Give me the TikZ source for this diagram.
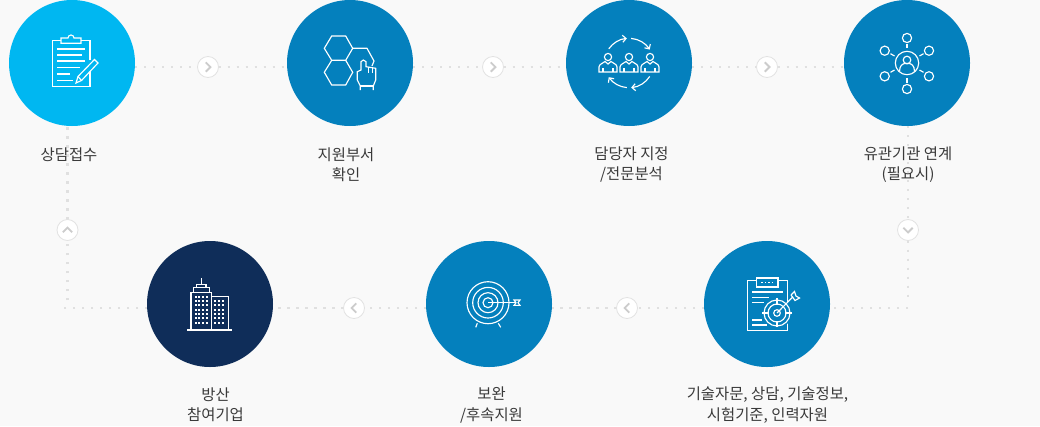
\documentclass[tikz,border=0pt]{standalone}
\usepackage{fontspec}
\setmainfont{Noto Sans CJK KR}
\usetikzlibrary{backgrounds,arrows.meta}
\definecolor{pagebg}{HTML}{F9F9F9}
\definecolor{dotgray}{HTML}{E0E0E0}
\definecolor{chevgray}{HTML}{CCCCCC}
\definecolor{ringgray}{HTML}{E2E2E2}
\definecolor{skyblue}{HTML}{00B7F1}
\definecolor{midblue}{HTML}{0480BD}
\definecolor{navyblue}{HTML}{0F2D59}
\definecolor{labgray}{HTML}{3A3A3A}
\tikzset{
  stepcirc/.style={circle,minimum size=126pt,inner sep=0pt,outer sep=0pt},
  btn/.style={circle,fill=white,draw=ringgray,line width=0.8pt,minimum size=21pt,inner sep=0pt,outer sep=0pt},
  dotline/.style={dotgray,line width=2.4pt,dash pattern=on 2.4pt off 6.6pt},
  chev/.style={chevgray,line width=1.9pt},
  lab/.style={labgray,font=\fontsize{15.4}{20.4}\selectfont,align=center,inner sep=0pt,outer sep=0pt},
  ico/.style={white,line width=1.15pt}
}
\begin{document}
\begin{tikzpicture}[x=1pt,y=-1pt]
\foreach \nm/\x/\y/\col in {c1/72/63/skyblue, c2/350/63/midblue, c3/629/63/midblue, c4/907/63/midblue, c5/767/304/midblue, c6/489/304/midblue, c7/210/304/navyblue} {
  \node[stepcirc,fill=\col] (\nm) at (\x,\y) {};
}
\foreach \nm/\x/\y in {b1/208/67, b2/493/67, b3/767/67, b4/908/230, b5/627/308, b6/354/308, b7/67.5/230} {
  \node[btn] (\nm) at (\x,\y) {};
}
\foreach \nm/\ang in {b1/0, b2/0, b3/0, b4/-90, b5/180, b6/180, b7/90} {
  \draw[chev,shift={(\nm.center)},rotate=\ang] (-2.2,-4.6) -- (2.4,0) -- (-2.2,4.6);
}
\coordinate (k1) at (61,308);
\coordinate (k2) at (908,308);
\coordinate (k3) at (67.5,300);
\coordinate (k4) at (908,300);
\begin{scope}[on background layer]
\fill[pagebg] (0,0) rectangle (1040,426);
\draw[dotline] (c1 |- b1) -- (b1);
\draw[dotline] (b1) -- (c2 |- b1);
\draw[dotline] (c2 |- b2) -- (b2);
\draw[dotline] (b2) -- (c3 |- b2);
\draw[dotline] (c3 |- b3) -- (b3);
\draw[dotline] (b3) -- (c4 |- b3);
\draw[dotline] (c4 -| b4) -- (b4);
\draw[dotline] (b4) -- (k4);
\draw[dotline] (k2) -- (c5 |- k2);
\draw[dotline] (c5 |- b5) -- (b5);
\draw[dotline] (b5) -- (c6 |- b5);
\draw[dotline] (c6 |- b6) -- (b6);
\draw[dotline] (b6) -- (c7 |- b6);
\draw[dotline] (c7 |- k1) -- (k1);
\draw[dotline] (k3) -- (b7);
\draw[dotline] (b7) -- (c1 -| b7);
\end{scope}
\node[lab] (t1) at (69,154.5) {상담접수};
\node[lab] (t2) at (346,164.5) {지원부서\\확인};
\node[lab] (t3) at (631.5,164.5) {담당자 지정\\/전문분석};
\node[lab] (t4) at (908,164.5) {유관기관 연계\\(필요시)};
\node[lab] (t5) at (767.5,405) {기술자문, 상담, 기술정보,\\시험기준, 인력자원};
\node[lab] (t6) at (491.5,405) {보완\\/후속지원};
\node[lab] (t7) at (215.5,405) {방산\\참여기업};
% clipboard
\begin{scope}[shift={(c1.center)},ico]
\draw (-11,-22.3) -- (-19.7,-22.3) -- (-19.7,23.7) -- (18,23.7) -- (18,6);
\draw (18,-3) -- (18,-22.3) -- (9,-22.3);
\draw (-11,-19.7) -- (-11,-25) -- (-4,-25) arc (180:360:3) -- (9,-25) -- (9,-19.7) -- cycle;
\foreach \y/\xe in {-14/13, -8/9.7, -2/13, 4.7/8, 11/-2, 17.3/1} {
  \draw (-15,\y) -- (\xe,\y);
}
\draw[fill=skyblue] (4,20) -- (6,13.5) -- (22.5,-3.5) -- (26,0) -- (9.5,17.5) -- cycle;
\draw (6,13.5) -- (9.5,17.5);
\end{scope}
% hexagons and hand
\begin{scope}[shift={(c2.center)},ico]
\draw (-25.7,-14.7) -- (-18.3,-27) -- (-4.3,-27) -- (2.7,-14.7) -- (-4.3,-2.7) -- (-18.3,-2.7) -- cycle;
\draw (-18.3,-2.7) -- (-25.7,9.3) -- (-18.3,22) -- (-4.3,22) -- (2.7,9.3) -- (-4.3,-2.7);
\draw (2.7,-14.7) -- (17,-14.7) -- (24,-2) -- (22,3);
\draw[fill=midblue] (10.3,27) -- (10.3,23) -- (7.3,17) -- (7.3,8.7) -- (11,7) -- (11,-1.3) -- (13.3,-3) -- (16,-1.3) -- (16,3.7) -- (25.7,5.3) -- (25.7,17) -- (23.3,23) -- (23.3,27);
\draw (10.3,23) -- (23.3,23);
\draw (18.7,4) -- (18.7,10);
\draw (22.2,4.7) -- (22.2,10);
\end{scope}
% people and arrows
\begin{scope}[shift={(c3.center)},ico]
\foreach \x in {-21,0,21} {
  \draw (\x,-6) circle (3.6);
  \draw (\x-9,9) -- (\x-9,4) .. controls (\x-9,1) and (\x-5,0.5) .. (\x-3,-1.5) -- (\x,1) -- (\x+3,-1.5) .. controls (\x+5,0.5) and (\x+9,1) .. (\x+9,4) -- (\x+9,9) -- cycle;
  \draw (\x-5,9) -- (\x-5,5);
  \draw (\x+5,9) -- (\x+5,5);
}
\foreach \a/\b in {-145/-95, -85/-33, 33/85, 95/145} {
  \draw[-{Straight Barb[length=3.5pt,width=7pt]}] (\a:24.7) arc (\a:\b:24.7);
}
\end{scope}
% network around a person
\begin{scope}[shift={(c4.center)},ico]
\draw (0,0) circle (11.7);
\draw (0,-3) circle (3.8);
\draw (-7.5,8.5) .. controls (-7.5,2) and (-4,1) .. (-2.5,0.5) -- (2.5,0.5) .. controls (4,1) and (7.5,2) .. (7.5,8.5);
\foreach \x/\y/\ax/\ay/\bx/\by in {0/-25/0/-15/0/-19.5, -22.3/-12.3/-12.5/-7/-16.5/-9.3, 22/-12.3/12.5/-7/16.5/-9.3, -22.3/13.3/-12.5/7/-16.5/9.3, 22/13.3/12.5/7/16.5/9.3, 0/26/0/15/0/19.5} {
  \draw (\x,\y) circle (4.6);
  \draw (\ax,\ay) -- (\bx,\by);
}
\end{scope}
% clipboard with a target
\begin{scope}[shift={(c5.center)},ico]
\draw (-19.7,-23.7) rectangle (20.7,26.3);
\draw[fill=midblue] (-10.7,-26) rectangle (11,-17);
\foreach \x in {-5,-1.5,2,5.5} {
  \fill (\x-0.6,-22) rectangle (\x+0.6,-20.8);
}
\foreach \y/\xe in {-12/16, -6.7/2, -1.3/-3, 16/-5, 21/-0.3} {
  \draw (-15,\y) -- (\xe,\y);
}
\fill[midblue] (10,9) circle (15);
\draw (10,9) circle (13);
\draw (10,9) circle (9);
\draw (10,9) circle (3.3);
\draw (-4.7,9) -- (2,9);
\draw (18,9) -- (24.7,9);
\draw (10,-5.7) -- (10,1);
\draw (10,17) -- (10,23.3);
\draw (10,9) -- (26,-7.3);
\draw (24,-9) -- (27.5,-12.5) -- (29,-8) -- (32.5,-6) -- (28,-3.5) -- (24,-9);
\end{scope}
% target
\begin{scope}[shift={(c6.center)},ico]
\foreach \r in {21,15.3,10,5} {
  \draw (-1,-1.3) circle (\r);
}
\draw (-1,-1.3) -- (26,-1.3);
\draw (25,-4) -- (31,-4) -- (29,-1.3) -- (31,1.4) -- (25,1.4) -- (27,-1.3) -- cycle;
\draw (-11.7,19.3) -- (-13.3,23.3);
\draw (9.3,19.3) -- (11.7,23.3);
\end{scope}
% buildings
\begin{scope}[shift={(c7.center)},ico]
\draw (-19,24.7) -- (-19,-11.7) -- (1.3,-11.7) -- (1.3,24.7);
\draw (1.3,-7.3) -- (18.3,-7.3) -- (18.3,24.7);
\draw (-23,26) -- (22,26);
\draw (-16.3,-11.7) -- (-16.3,-16.3) -- (-0.7,-16.3) -- (-0.7,-11.7);
\draw (-13.7,-16.3) -- (-13.7,-19.7) -- (-4,-19.7) -- (-4,-16.3);
\draw (-8.7,-25.7) -- (-8.7,-19.7);
\foreach \x in {-14.3,-10.7,-7,-3.3} {
  \foreach \y in {-7.3,-3,1.3,5.7,10,14.3,18.7} {
    \fill (\x-0.9,\y-0.9) rectangle (\x+0.9,\y+0.9);
  }
}
\foreach \x in {5,9,13} {
  \foreach \y in {-3,1.3,5.7,10,14.3,18.7} {
    \fill (\x-0.9,\y-0.9) rectangle (\x+0.9,\y+0.9);
  }
}
\end{scope}
\end{tikzpicture}
\end{document}
